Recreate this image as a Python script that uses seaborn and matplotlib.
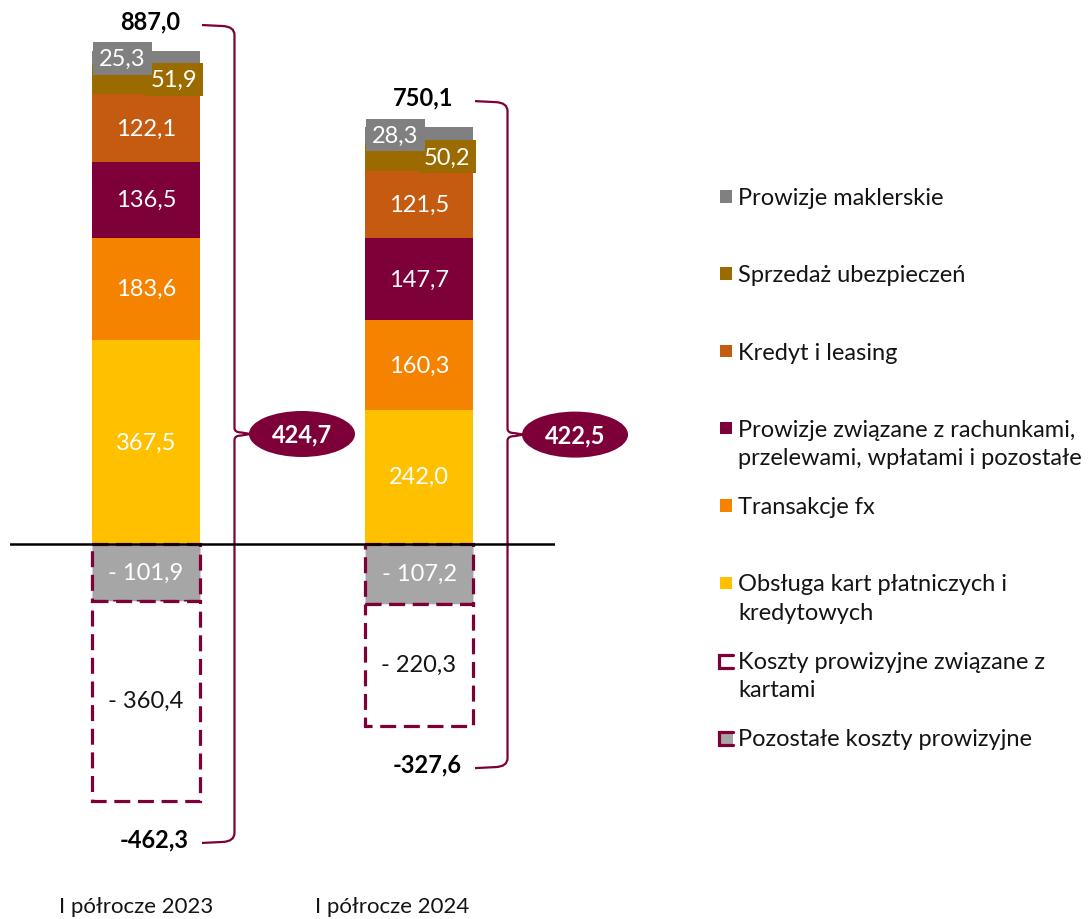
import numpy as np
import matplotlib
matplotlib.use("Agg")
import matplotlib.pyplot as plt
import seaborn as sns
from matplotlib.patches import Ellipse, Rectangle, PathPatch
from matplotlib.path import Path
from matplotlib.lines import Line2D

sns.set_style("white")
plt.rcParams["font.family"] = ["Lato", "DejaVu Sans"]

periods = ["I półrocze 2023", "I półrocze 2024"]

# income components, stacked from zero upwards
obsluga_kart = [367.5, 242.0]
transakcje_fx = [183.6, 160.3]
rachunki = [136.5, 147.7]
kredyt_leasing = [122.1, 121.5]
ubezpieczenia = [51.9, 50.2]
maklerskie = [25.3, 28.3]

# cost components, stacked from zero downwards
pozostale_koszty = [-101.9, -107.2]
koszty_karty = [-360.4, -220.3]

suma_przychodow = [887.0, 750.1]
suma_kosztow = [-462.3, -327.6]
wynik = [424.7, 422.5]

MAROON = "#7E0038"
TXT = "#141414"

income = [
    ("Obsługa kart płatniczych i\nkredytowych", obsluga_kart, "#FFC000"),
    ("Transakcje fx", transakcje_fx, "#F58300"),
    ("Prowizje związane z rachunkami,\nprzelewami, wpłatami i pozostałe", rachunki, MAROON),
    ("Kredyt i leasing", kredyt_leasing, "#C55A11"),
    ("Sprzedaż ubezpieczeń", ubezpieczenia, "#9C6B00"),
    ("Prowizje maklerskie", maklerskie, "#808080"),
]
GREY_COST = "#A6A6A6"

W_PX, H_PX = 1090, 920
fig = plt.figure(figsize=(W_PX / 100, H_PX / 100), dpi=100)
AX_L, AX_B, AX_W, AX_H = 10, 40, 545, 880  # pixels
ax = fig.add_axes([AX_L / W_PX, AX_B / H_PX, AX_W / W_PX, AX_H / H_PX])

XLIM = (-0.498, 1.498)
YLIM = (-602.7, 980.6)
sx = AX_W / (XLIM[1] - XLIM[0])   # px per x unit
sy = AX_H / (YLIM[1] - YLIM[0])   # px per y unit
BAR_W = 108 / sx
FS = 17
FS_TICK = 16


def fmt(v):
    return f"{v:.1f}".replace(".", ",")


# offsets (px) for the two thin top segments whose labels sit in boxes
box_offsets = {"Sprzedaż ubezpieczeń": 28, "Prowizje maklerskie": -23.5}

bottom = np.zeros(2)
for name, vals, col in income:
    vals = np.asarray(vals)
    sns.barplot(x=periods, y=vals, bottom=bottom.copy(), color=col, saturation=1,
                width=BAR_W, linewidth=0, errorbar=None, ax=ax, zorder=2)
    for i, v in enumerate(vals):
        yc = bottom[i] + v / 2
        if name in box_offsets:
            ax.text(i + box_offsets[name] / sx, yc, fmt(v), ha="center", va="center",
                    color="white", fontsize=FS, zorder=5,
                    bbox=dict(boxstyle="square,pad=0.25", fc=col, ec="none"))
        else:
            ax.text(i, yc, fmt(v), ha="center", va="center", color="white",
                    fontsize=FS, zorder=5)
    bottom += vals

dash = (0, (5, 2.4))
neg_bottom = np.zeros(2)
for vals, face, tcol in [(pozostale_koszty, GREY_COST, "white"),
                         (koszty_karty, "white", TXT)]:
    vals = np.asarray(vals)
    sns.barplot(x=periods, y=vals, bottom=neg_bottom.copy(), color=face, saturation=1,
                width=BAR_W, edgecolor=MAROON, linewidth=2.3, linestyle=dash,
                errorbar=None, ax=ax, zorder=2)
    for i, v in enumerate(vals):
        ax.text(i, neg_bottom[i] + v / 2, "- " + fmt(-v), ha="center", va="center",
                color=tcol, fontsize=FS, zorder=5)
    neg_bottom += vals

ax.axhline(0, color="black", lw=1.8, zorder=6)


def brace(xc, ytop, ybot):
    def P(dx, y, dy):
        return (xc + dx / sx, y - dy / sy)
    ymid = (ytop + ybot) / 2
    xv, x0 = 88.5, 56
    verts = [P(x0, ytop, 0), P(xv - 12, ytop, 1), P(xv, ytop, 1.5), P(xv, ytop, 10),
             P(xv, ymid, -6), P(xv, ymid, -1.5), P(xv + 7, ymid, -1.5), P(xv + 16, ymid, 0),
             P(xv + 7, ymid, 1.5), P(xv, ymid, 1.5), P(xv, ymid, 6),
             P(xv, ybot, -10), P(xv, ybot, -1.5), P(xv - 12, ybot, -1), P(x0, ybot, 0)]
    codes = [Path.MOVETO, Path.LINETO, Path.CURVE3, Path.CURVE3,
             Path.LINETO, Path.CURVE3, Path.CURVE3, Path.LINETO,
             Path.LINETO, Path.CURVE3, Path.CURVE3,
             Path.LINETO, Path.CURVE3, Path.CURVE3, Path.LINETO]
    ax.add_patch(PathPatch(Path(verts, codes), fc="none", ec=MAROON, lw=1.6,
                           capstyle="butt", joinstyle="round", zorder=4, clip_on=False))
    return ymid


for i in range(2):
    ytop = suma_przychodow[i] + 26 / sy
    ybot = suma_kosztow[i] - 42 / sy
    ymid = brace(i, ytop, ybot)
    ax.add_patch(Ellipse((i + 156 / sx, ymid), 106 / sx, 46 / sy, fc=MAROON,
                         ec="none", zorder=5, clip_on=False))
    ax.text(i + 156 / sx, ymid, fmt(wynik[i]), ha="center", va="center",
            color="white", fontsize=FS, fontweight="bold", zorder=6, clip_on=False)
    ax.text(i + 4 / sx, suma_przychodow[i] + 30 / sy, fmt(suma_przychodow[i]),
            ha="center", va="center", color="black", fontsize=FS, fontweight="bold")
    ax.text(i + 8 / sx, suma_kosztow[i] - 38 / sy, fmt(suma_kosztow[i]),
            ha="center", va="center", color="black", fontsize=FS, fontweight="bold")

ax.set_xlim(*XLIM)
ax.set_ylim(*YLIM)
ax.set_xticks([-9.5 / sx, 1 - 27 / sx])
ax.set_xticklabels(periods, fontsize=FS_TICK, color=TXT)
ax.tick_params(axis="x", length=0, pad=12)
ax.set_yticks([])
ax.set_xlabel("")
ax.set_ylabel("")
sns.despine(ax=ax, left=True, bottom=True)

# legend, drawn in figure pixels
legend_rows = [
    ("Prowizje maklerskie", "#808080", "square"),
    ("Sprzedaż ubezpieczeń", "#9C6B00", "square"),
    ("Kredyt i leasing", "#C55A11", "square"),
    ("Prowizje związane z rachunkami,\nprzelewami, wpłatami i pozostałe", MAROON, "square"),
    ("Transakcje fx", "#F58300", "square"),
    ("Obsługa kart płatniczych i\nkredytowych", "#FFC000", "square"),
    ("Koszty prowizyjne związane z\nkartami", "white", "bracket"),
    ("Pozostałe koszty prowizyjne", GREY_COST, "bracket"),
]


def fx_(px):
    return px / W_PX


def fy_(py):
    return 1 - py / H_PX


base0, step, line_gap = 205, 77.3, 28.5
for k, (label, col, kind) in enumerate(legend_rows):
    b = base0 + k * step
    if kind == "square":
        fig.add_artist(Rectangle((fx_(719.5), fy_(b - 1.5)), 12.5 / W_PX, 12.5 / H_PX,
                                 transform=fig.transFigure, fc=col, ec="none"))
    else:
        fig.add_artist(Rectangle((fx_(719), fy_(b + 0.5)), 14 / W_PX, 13 / H_PX,
                                 transform=fig.transFigure, fc=col, ec="none"))
        xs = [fx_(733), fx_(719), fx_(719), fx_(733)]
        ys = [fy_(b - 13), fy_(b - 13), fy_(b), fy_(b)]
        fig.add_artist(Line2D(xs, ys, transform=fig.transFigure, color=MAROON,
                              lw=2.3, solid_joinstyle="miter"))
    for j, line in enumerate(label.split("\n")):
        fig.text(fx_(738), fy_(b + j * line_gap), line, ha="left", va="baseline",
                 fontsize=FS, color=TXT)

fig.savefig("out.png", dpi=100)
